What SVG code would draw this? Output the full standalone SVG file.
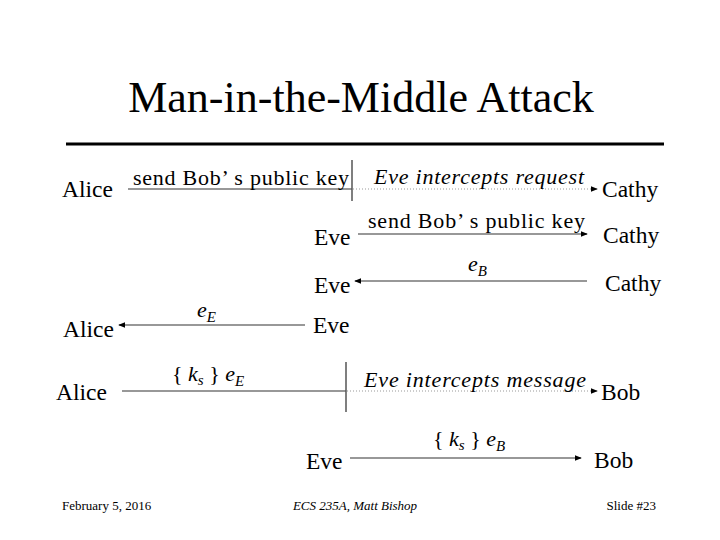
<svg xmlns="http://www.w3.org/2000/svg" width="720" height="540" viewBox="0 0 720 540">
<style>
text{font-family:'Liberation Serif',Tinos,'DejaVu Serif','Times New Roman',serif;fill:#000}
.t{font-size:44px}
.n{font-size:23.5px}
.l{font-size:22px}
.i{font-style:italic}
.s{font-size:15px;font-style:italic}
.f{font-size:13px}
.ln{stroke:#333;stroke-width:1.2;fill:none}
.dot{stroke:#999;stroke-width:1;stroke-dasharray:1 2;fill:none}
.bar{stroke:#555;stroke-width:1.5}
</style>
<defs>
<marker id="ah" viewBox="0 0 8 8" refX="7" refY="4" markerWidth="7" markerHeight="7" markerUnits="userSpaceOnUse" orient="auto">
<path d="M0,0.8 L8,4 L0,7.2 Z" fill="#000"/>
</marker>
</defs>
<rect width="720" height="540" fill="#fff"/>
<text class="t" x="361" y="112" text-anchor="middle">Man-in-the-Middle Attack</text>
<line x1="66" y1="144" x2="664" y2="144" stroke="#000" stroke-width="3"/>

<g id="row1-alice"><text class="n" x="62" y="197">Alice</text></g>
<g id="row1-cathy"><text class="n" x="602" y="197">Cathy</text></g>
<g id="row2-eve"><text class="n" x="314" y="245">Eve</text></g>
<g id="row2-cathy"><text class="n" x="603" y="243">Cathy</text></g>
<g id="row3-eve"><text class="n" x="314" y="293">Eve</text></g>
<g id="row3-cathy"><text class="n" x="605" y="291">Cathy</text></g>
<g id="row4-alice"><text class="n" x="63" y="337">Alice</text></g>
<g id="row4-eve"><text class="n" x="313" y="333">Eve</text></g>
<g id="row5-alice"><text class="n" x="56" y="400">Alice</text></g>
<g id="row5-bob"><text class="n" x="601" y="400">Bob</text></g>
<g id="row6-eve"><text class="n" x="306" y="469">Eve</text></g>
<g id="row6-bob"><text class="n" x="594" y="468">Bob</text></g>

<g id="connectors">
<line class="ln" x1="128" y1="189" x2="352" y2="189"/>
<line class="bar" x1="352" y1="160" x2="352" y2="201"/>
<line class="dot" x1="353" y1="189" x2="597" y2="189" marker-end="url(#ah)"/>
<text class="l" x="133" y="185" textLength="216" lengthAdjust="spacing">send Bob’ s public key</text>
<text class="l i" x="374" y="184" textLength="210" lengthAdjust="spacing">Eve intercepts request</text>

<line class="ln" x1="358" y1="234" x2="587" y2="234" marker-end="url(#ah)"/>
<text class="l" x="368" y="228" textLength="217" lengthAdjust="spacing">send Bob’ s public key</text>

<line class="ln" x1="587" y1="281" x2="355" y2="281" marker-end="url(#ah)"/>
<text class="l i" x="468" y="271">e<tspan class="s" dy="5">B</tspan></text>

<line class="ln" x1="305" y1="325" x2="119" y2="325" marker-end="url(#ah)"/>
<text class="l i" x="197" y="317">e<tspan class="s" dy="5">E</tspan></text>

<line class="ln" x1="122" y1="391" x2="346" y2="391"/>
<line class="bar" x1="346" y1="362" x2="346" y2="412"/>
<line class="dot" x1="347" y1="391" x2="597" y2="391" marker-end="url(#ah)"/>
<text class="l" x="172" y="381">{ <tspan class="i">k</tspan><tspan class="s" dy="4">s</tspan><tspan dy="-4"> } </tspan><tspan class="i">e</tspan><tspan class="s" dy="5">E</tspan></text>
<text class="l i" x="364" y="387" textLength="222" lengthAdjust="spacing">Eve intercepts message</text>

<line class="ln" x1="350" y1="458" x2="581" y2="458" marker-end="url(#ah)"/>
<text class="l" x="433" y="446">{ <tspan class="i">k</tspan><tspan class="s" dy="4">s</tspan><tspan dy="-4"> } </tspan><tspan class="i">e</tspan><tspan class="s" dy="5">B</tspan></text>
</g>

<text class="f" x="62" y="510">February 5, 2016</text>
<text class="f i" x="355" y="510" text-anchor="middle">ECS 235A, Matt Bishop</text>
<text class="f" x="656" y="510" text-anchor="end">Slide #23</text>
</svg>
